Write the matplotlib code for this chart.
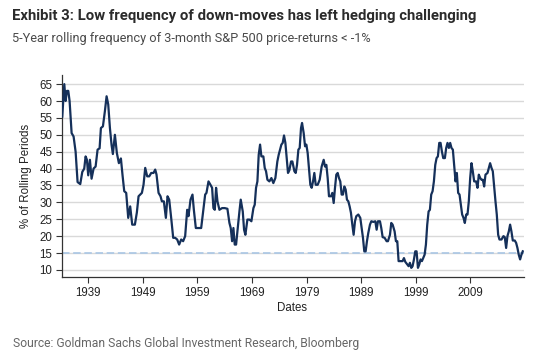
import matplotlib
matplotlib.use("Agg")
import matplotlib.pyplot as plt

# ---------------- data ----------------
dates = [
    1934.30, 1934.67, 1934.91, 1935.15, 1935.40, 1935.64, 1936.01, 1936.37, 1936.74, 1937.10,
    1937.59, 1937.96, 1938.32, 1938.57, 1938.81, 1939.05, 1939.36, 1939.66, 1940.03, 1940.40,
    1940.76, 1941.13, 1941.37, 1941.74, 1942.10, 1942.41, 1942.71, 1943.02, 1943.32, 1943.56,
    1943.93, 1944.29, 1944.66, 1945.03, 1945.33, 1945.64, 1946.00, 1946.37, 1946.73, 1947.10,
    1947.59, 1947.95, 1948.26, 1948.56, 1948.87, 1949.17, 1949.48, 1949.84, 1950.21, 1950.58,
    1951.00, 1951.31, 1951.55, 1951.92, 1952.28, 1952.53, 1952.89, 1953.26, 1953.56, 1953.87,
    1954.23, 1954.60, 1954.96, 1955.33, 1955.69, 1956.06, 1956.42, 1956.79, 1957.16, 1957.40,
    1957.77, 1958.13, 1958.38, 1958.74, 1959.23, 1959.72, 1960.02, 1960.45, 1960.69, 1961.06,
    1961.42, 1961.72, 1961.96, 1962.21, 1962.45, 1962.70, 1963.06, 1963.55, 1964.04, 1964.52,
    1964.89, 1965.13, 1965.38, 1965.62, 1965.86, 1966.11, 1966.35, 1966.72, 1966.96, 1967.33,
    1967.57, 1967.81, 1968.18, 1968.55, 1968.91, 1969.28, 1969.52, 1969.76, 1970.01, 1970.25,
    1970.50, 1970.74, 1971.10, 1971.35, 1971.59, 1971.84, 1972.20, 1972.57, 1972.93, 1973.30,
    1973.66, 1973.91, 1974.15, 1974.40, 1974.64, 1974.88, 1975.13, 1975.37, 1975.61, 1975.86,
    1976.17, 1976.41, 1976.78, 1977.02, 1977.26, 1977.51, 1977.75, 1977.99, 1978.18, 1978.48,
    1978.73, 1978.97, 1979.21, 1979.46, 1979.70, 1979.94, 1980.19, 1980.43, 1980.68, 1981.04,
    1981.41, 1981.77, 1982.14, 1982.38, 1982.63, 1982.87, 1983.11, 1983.48, 1983.72, 1983.97,
    1984.21, 1984.45, 1984.70, 1984.94, 1985.18, 1985.43, 1985.67, 1985.92, 1986.16, 1986.40,
    1986.65, 1986.89, 1987.13, 1987.38, 1987.62, 1987.87, 1988.11, 1988.48, 1988.84, 1989.08,
    1989.33, 1989.57, 1989.82, 1990.06, 1990.30, 1990.61, 1990.86, 1991.22, 1991.59, 1991.83,
    1992.07, 1992.44, 1992.68, 1992.93, 1993.29, 1993.66, 1993.90, 1994.27, 1994.51, 1994.76,
    1995.12, 1995.36, 1995.61, 1995.85, 1996.22, 1996.58, 1996.83, 1997.07, 1997.44, 1997.68,
    1997.92, 1998.17, 1998.41, 1998.66, 1998.90, 1999.14, 1999.39, 1999.63, 1999.87, 2000.12,
    2000.36, 2000.61, 2000.85, 2001.09, 2001.34, 2001.58, 2001.82, 2002.07, 2002.31, 2002.56,
    2002.80, 2003.04, 2003.29, 2003.53, 2003.77, 2004.02, 2004.32, 2004.56, 2004.80, 2005.05,
    2005.29, 2005.53, 2005.78, 2006.02, 2006.27, 2006.51, 2006.75, 2007.00, 2007.24, 2007.48,
    2007.73, 2007.97, 2008.22, 2008.46, 2008.70, 2008.95, 2009.19, 2009.43, 2009.68, 2010.04,
    2010.29, 2010.53, 2010.78, 2011.02, 2011.26, 2011.51, 2011.75, 2012.12, 2012.36, 2012.60,
    2012.85, 2013.09, 2013.33, 2013.58, 2013.82, 2014.07, 2014.31, 2014.68, 2015.04, 2015.28,
    2015.53, 2015.77, 2016.02, 2016.26, 2016.50, 2016.75, 2017.11, 2017.36, 2017.60, 2017.84,
    2018.09, 2018.33, 2018.57,
]
pct_rolling = [
    55.4, 65.0, 60.0, 63.0, 63.0, 60.0, 50.5, 49.5, 45.0, 36.0,
    35.4, 39.0, 40.0, 43.6, 42.6, 38.0, 42.6, 37.0, 40.0, 40.6,
    45.6, 46.0, 52.0, 52.5, 57.0, 61.4, 59.0, 52.0, 47.0, 44.3,
    50.0, 44.6, 41.6, 43.0, 38.0, 33.3, 32.8, 25.4, 28.8, 23.4,
    23.4, 27.0, 31.8, 32.3, 32.8, 35.2, 40.2, 37.7, 37.7, 38.7,
    38.7, 39.7, 38.2, 32.8, 31.8, 30.3, 30.3, 25.4, 31.8, 30.8,
    25.4, 19.5, 19.5, 19.0, 17.5, 19.0, 18.5, 20.0, 27.8, 25.9,
    30.8, 32.3, 27.8, 22.4, 22.4, 22.4, 26.4, 32.3, 32.8, 36.2,
    35.2, 34.3, 28.3, 27.8, 34.3, 30.3, 27.8, 28.3, 28.3, 28.1,
    23.9, 22.4, 18.5, 22.4, 17.5, 17.5, 21.4, 27.3, 30.8, 27.3,
    21.9, 20.4, 24.9, 24.9, 24.4, 28.3, 29.3, 34.3, 36.2, 44.1,
    47.1, 43.6, 43.6, 40.2, 39.2, 36.7, 36.2, 37.2, 35.7, 37.2,
    42.1, 44.1, 45.6, 47.1, 47.6, 49.8, 47.6, 43.1, 38.7, 39.5,
    42.1, 42.1, 39.2, 38.7, 41.1, 45.6, 46.1, 52.0, 53.5, 50.5,
    46.6, 47.1, 44.6, 39.7, 35.2, 34.3, 36.2, 38.7, 35.2, 35.2,
    36.7, 40.6, 42.6, 40.6, 41.1, 37.2, 31.8, 31.8, 32.8, 29.8,
    34.3, 38.2, 38.7, 37.2, 36.2, 32.3, 32.3, 34.7, 33.8, 30.8,
    30.3, 28.8, 26.9, 23.4, 20.4, 24.4, 25.9, 26.4, 25.4, 22.4,
    19.5, 15.5, 15.5, 18.5, 20.9, 23.4, 24.4, 24.2, 24.4, 21.9,
    24.4, 24.4, 22.4, 19.7, 19.5, 18.5, 18.5, 20.4, 23.9, 23.4,
    21.4, 18.5, 18.5, 12.6, 12.6, 12.6, 13.5, 12.4, 11.6, 11.1,
    12.1, 10.6, 11.1, 13.1, 15.5, 15.5, 10.6, 11.6, 13.1, 12.6,
    13.5, 14.5, 17.5, 23.4, 27.3, 27.8, 32.3, 33.3, 36.2, 41.1,
    43.1, 43.6, 47.6, 47.6, 45.1, 43.1, 43.1, 46.1, 47.6, 46.1,
    47.6, 46.1, 45.6, 41.1, 36.2, 38.7, 32.8, 32.3, 29.3, 26.4,
    25.4, 23.9, 26.4, 26.4, 30.3, 37.2, 41.6, 39.2, 36.2, 36.2,
    34.3, 38.2, 37.2, 36.7, 36.7, 34.7, 38.2, 38.7, 40.2, 41.6,
    40.2, 39.2, 34.7, 30.3, 26.4, 20.4, 19.0, 19.0, 20.0, 19.7,
    16.5, 20.0, 21.4, 23.4, 21.4, 18.7, 18.7, 18.0, 16.5, 14.5,
    13.1, 14.5, 15.5,
]
threshold = 15
y_ticks = [10, 15, 20, 25, 30, 35, 40, 45, 50, 55, 60, 65]
x_ticks = [1939, 1949, 1959, 1969, 1979, 1989, 1999, 2009]
x_tick_labels = ["1939", "1949", "1959", "1969", "1979", "1989", "1999", "2009"]

title = "Exhibit 3: Low frequency of down-moves has left hedging challenging"
subtitle = "5-Year rolling frequency of 3-month S&P 500 price-returns < -1%"
source = "Source: Goldman Sachs Global Investment Research, Bloomberg"
y_label = "% of Rolling Periods"
x_label = "Dates"

# ---------------- figure ----------------
plt.rcParams["font.family"] = ["Liberation Sans", "DejaVu Sans"]
W, H = 553, 356
fig = plt.figure(figsize=(W / 100, H / 100), dpi=100)
fig.patch.set_facecolor("white")

ax = fig.add_axes([62 / W, 1 - 277 / H, (524 - 62) / W, (277 - 75) / H])

for yv in y_ticks:
    ax.axhline(yv, color="#d9d9d9", lw=1.0, zorder=1)
ax.axhline(threshold, color="#aac6e4", lw=1.2, ls=(0, (4.5, 2.2)), zorder=2)

ax.plot(dates, pct_rolling, color="#15305a", lw=1.6, zorder=3, solid_joinstyle="round")

ax.set_xlim(1934.25, 2018.8)
ax.set_ylim(7.9, 67.7)
ax.set_yticks(y_ticks)
ax.set_xticks(x_ticks)
ax.set_xticklabels(x_tick_labels)

for s in ["top", "right"]:
    ax.spines[s].set_visible(False)
for s in ["left", "bottom"]:
    ax.spines[s].set_color("#333333")
    ax.spines[s].set_linewidth(0.9)

ax.tick_params(axis="both", direction="out", length=4, width=0.8, color="#333333",
               labelsize=8.3, labelcolor="#222222")
ax.tick_params(axis="y", pad=3)
ax.tick_params(axis="x", pad=3)

fig.text(26.5 / W, 1 - 176 / H, y_label, rotation=90, ha="center", va="center",
         fontsize=8.3, color="#222222")
fig.text(292 / W, 1 - 308 / H, x_label, ha="center", va="center",
         fontsize=8.3, color="#222222")

narrow = ["Roboto", "DejaVu Sans"]
fig.text(12 / W, 1 - 20 / H, title, ha="left", va="baseline", fontsize=10.75,
         fontweight="bold", color="#2b2b2b", family=narrow)
fig.text(12 / W, 1 - 41.7 / H, subtitle, ha="left", va="baseline", fontsize=9.15,
         color="#4a4a4a", family=narrow)
fig.text(13 / W, 1 - 346.5 / H, source, ha="left", va="baseline", fontsize=8.7,
         color="#666666", family=narrow)

fig.savefig("out.png", dpi=100, facecolor="white")
